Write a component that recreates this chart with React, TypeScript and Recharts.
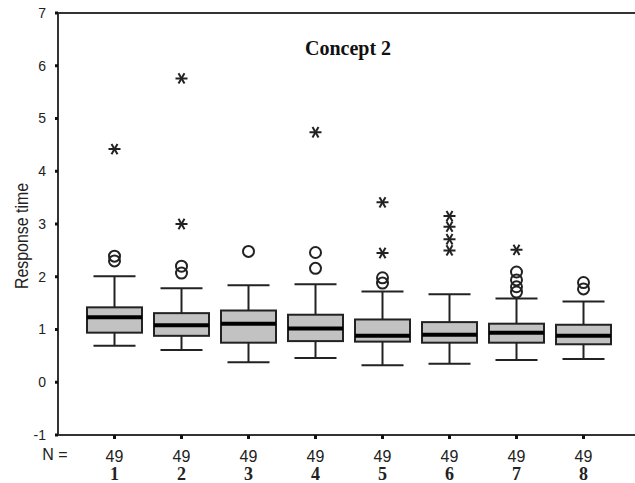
import React from 'react';
import {
  ComposedChart,
  Bar,
  Scatter,
  XAxis,
  YAxis,
  ReferenceLine,
  Customized,
} from 'recharts';

// Boxplot of response times for Concept 2, eight items, N = 49 each.

const categories = ['1', '2', '3', '4', '5', '6', '7', '8'];
const counts = [49, 49, 49, 49, 49, 49, 49, 49];
const whiskerLow = [0.69, 0.61, 0.38, 0.46, 0.32, 0.35, 0.42, 0.44];
const q1 = [0.94, 0.88, 0.75, 0.78, 0.77, 0.75, 0.75, 0.72];
const median = [1.23, 1.08, 1.11, 1.02, 0.88, 0.9, 0.94, 0.88];
const q3 = [1.42, 1.31, 1.36, 1.28, 1.19, 1.14, 1.11, 1.09];
const whiskerHigh = [2.01, 1.78, 1.84, 1.86, 1.72, 1.67, 1.59, 1.53];

// outliers (circles) and extremes (stars), as [category, value]
const outliers: [string, number][] = [
  ['1', 2.39], ['1', 2.3],
  ['2', 2.2], ['2', 2.07],
  ['3', 2.48],
  ['4', 2.46], ['4', 2.16],
  ['5', 1.98], ['5', 1.88],
  ['7', 2.09], ['7', 1.94], ['7', 1.81], ['7', 1.71],
  ['8', 1.89], ['8', 1.77],
];
const extremes: [string, number][] = [
  ['1', 4.42],
  ['2', 5.76], ['2', 3.0],
  ['4', 4.74],
  ['5', 3.41], ['5', 2.45],
  ['6', 3.15], ['6', 2.95], ['6', 2.71], ['6', 2.5],
  ['7', 2.51],
];

const yTicks = [-1, 0, 1, 2, 3, 4, 5, 6, 7];

const boxData = categories.map((cat, i) => ({
  cat,
  n: counts[i],
  lo: whiskerLow[i],
  q1: q1[i],
  med: median[i],
  q3: q3[i],
  hi: whiskerHigh[i],
}));
const outlierData = outliers.map(([cat, value]) => ({ cat, value }));
const extremeData = extremes.map(([cat, value]) => ({ cat, value }));

const INK = '#222';
const SANS = '"Liberation Sans", Arial, sans-serif';
const SERIF = '"Liberation Serif", "Times New Roman", serif';

const BoxShape = (props: any) => {
  const { x, y, width, height, payload } = props;
  const top = Math.min(y, y + height);
  const span = Math.abs(height);
  const d = payload;
  const py = (v: number) => top + (span * (d.hi - v)) / (d.hi - d.lo);
  const cx = x + width / 2;
  const cap = 21;
  return (
    <g>
      <line x1={cx} x2={cx} y1={py(d.hi)} y2={py(d.lo)} stroke={INK} strokeWidth={2} />
      <line x1={cx - cap} x2={cx + cap} y1={py(d.hi)} y2={py(d.hi)} stroke={INK} strokeWidth={2} />
      <line x1={cx - cap} x2={cx + cap} y1={py(d.lo)} y2={py(d.lo)} stroke={INK} strokeWidth={2} />
      <rect
        x={x}
        y={py(d.q3)}
        width={width}
        height={py(d.q1) - py(d.q3)}
        fill="#c2c2c2"
        stroke={INK}
        strokeWidth={2}
      />
      <line x1={x} x2={x + width} y1={py(d.med)} y2={py(d.med)} stroke="#000" strokeWidth={4} />
    </g>
  );
};

const CircleShape = (props: any) => (
  <circle cx={props.cx} cy={props.cy} r={5.5} fill="none" stroke={INK} strokeWidth={2} />
);

const StarShape = (props: any) => {
  const { cx, cy } = props;
  const r = 6;
  const a = r * Math.cos(Math.PI / 3);
  const b = r * Math.sin(Math.PI / 3);
  return (
    <g stroke={INK} strokeWidth={2}>
      <line x1={cx - r} x2={cx + r} y1={cy} y2={cy} />
      <line x1={cx - a} x2={cx + a} y1={cy - b} y2={cy + b} />
      <line x1={cx - a} x2={cx + a} y1={cy + b} y2={cy - b} />
    </g>
  );
};

const XTick = (props: any) => {
  const { x, y, payload, index } = props;
  return (
    <g>
      <text x={x} y={y + 21} textAnchor="middle" fontFamily={SANS} fontSize={16} fill={INK}>
        {counts[index]}
      </text>
      <text x={x} y={y + 39} textAnchor="middle" fontFamily={SERIF} fontWeight="bold" fontSize={18} fill={INK}>
        {payload.value}
      </text>
    </g>
  );
};

const Extras = () => (
  <g>
    <text x={348} y={55} textAnchor="middle" fontFamily={SERIF} fontWeight="bold" fontSize={20} fill="#111">
      Concept 2
    </text>
    <text
      x={28}
      y={236}
      transform="rotate(-90 28 236)"
      textAnchor="middle"
      fontFamily={SANS}
      fontSize={18}
      textLength={106}
      lengthAdjust="spacingAndGlyphs"
      fill={INK}
    >
      Response time
    </text>
    <text x={55} y={460} textAnchor="middle" fontFamily={SANS} fontSize={16} fill={INK}>
      N =
    </text>
  </g>
);

export default function App() {
  return (
    <div style={{ position: 'absolute', left: 0, top: 0, background: '#fff' }}>
      <ComposedChart
        width={635}
        height={483}
        data={boxData}
        margin={{ top: 13, right: 0, bottom: 0, left: 0 }}
        barCategoryGap={6}
      >
        <XAxis
          dataKey="cat"
          type="category"
          height={48}
          allowDuplicatedCategory={false}
          padding={{ left: 23, right: 18 }}
          axisLine={{ stroke: '#333', strokeWidth: 2 }}
          tickLine={{ stroke: '#111', strokeWidth: 3 }}
          tickSize={4}
          tick={<XTick />}
          interval={0}
        />
        <YAxis
          domain={[-1, 7]}
          ticks={yTicks}
          width={58}
          axisLine={{ stroke: '#333', strokeWidth: 2 }}
          tickLine={{ stroke: '#111', strokeWidth: 3 }}
          tickSize={3}
          tickMargin={9}
          tick={{ fontFamily: SANS, fontSize: 14, fill: INK }}
          allowDataOverflow
        />
        <ReferenceLine y={7} stroke="#333" strokeWidth={2} />
        <Bar
          dataKey={(d: any) => [d.lo, d.hi]}
          barSize={55}
          shape={<BoxShape />}
          isAnimationActive={false}
        />
        <Scatter data={outlierData} dataKey="value" shape={<CircleShape />} isAnimationActive={false} />
        <Scatter data={extremeData} dataKey="value" shape={<StarShape />} isAnimationActive={false} />
        <Customized component={Extras} />
      </ComposedChart>
    </div>
  );
}
